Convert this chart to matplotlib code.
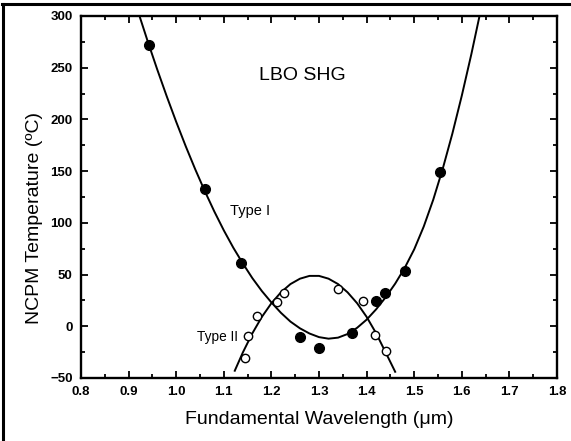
import matplotlib
matplotlib.use("Agg")
import matplotlib.pyplot as plt
from matplotlib.lines import Line2D
from matplotlib.ticker import MultipleLocator

plt.rcParams['font.family'] = ['Liberation Sans', 'DejaVu Sans']

# measured phase-matching temperatures
type1_wl = [0.943, 1.060, 1.137, 1.260, 1.300, 1.369, 1.420, 1.438, 1.481, 1.555]
type1_t = [272, 133, 61, -10, -21, -6.5, 24.5, 32.6, 53, 149]
type2_wl = [1.144, 1.151, 1.169, 1.211, 1.227, 1.339, 1.392, 1.418, 1.440]
type2_t = [-30.6, -9.7, 10, 23.5, 32, 35.8, 24, -8.7, -24]

# calculated tuning curves
type1_fit_wl = [0.92, 0.94, 0.96, 0.98, 1.00, 1.02, 1.04, 1.06, 1.08, 1.10, 1.12,
                1.14, 1.16, 1.18, 1.20, 1.22, 1.24, 1.26, 1.28, 1.30, 1.32, 1.34,
                1.36, 1.38, 1.40, 1.42, 1.44, 1.46, 1.48, 1.50, 1.52, 1.54, 1.56,
                1.58, 1.60, 1.62, 1.64]
type1_fit_t = [304, 275.6, 248.4, 222.4, 197.6, 174, 151.7, 130.7, 111, 92.7, 75.9,
               60.7, 46.5, 34, 23, 13, 4.5, -2, -7, -10.5, -12, -11,
               -7.5, -1.5, 6.4, 16.4, 28, 41.2, 56.4, 74.4, 96.4, 122.4, 152.4,
               186, 223, 263, 306]
type2_fit_wl = [1.123, 1.14, 1.16, 1.18, 1.20, 1.22, 1.24, 1.26, 1.28, 1.30, 1.32,
                1.34, 1.36, 1.38, 1.40, 1.42, 1.44, 1.46]
type2_fit_t = [-43, -25.3, -6.8, 9.1, 22.3, 32.8, 40.8, 46, 48.7, 48.7, 46,
               40.8, 32.8, 22.3, 9.1, -6.8, -25.3, -44]

fig = plt.figure(figsize=(5.71, 4.41), dpi=100)
ax = fig.add_axes([0.1419, 0.1429, 0.8336, 0.8209])

ax.plot(type1_fit_wl, type1_fit_t, color='black', lw=1.4)
ax.plot(type2_fit_wl, type2_fit_t, color='black', lw=1.4)
ax.plot(type1_wl, type1_t, 'o', color='black', ms=7)
ax.plot(type2_wl, type2_t, 'o', mfc='white', mec='black', mew=1.0, ms=6)

ax.set_xlim(0.8, 1.8)
ax.set_ylim(-50, 300)
ax.xaxis.set_major_locator(MultipleLocator(0.1))
ax.xaxis.set_minor_locator(MultipleLocator(0.05))
ax.yaxis.set_major_locator(MultipleLocator(50))
ax.yaxis.set_minor_locator(MultipleLocator(25))
ax.xaxis.set_major_formatter(plt.FormatStrFormatter('%.1f'))
ax.tick_params(which='both', direction='in', top=True, right=True, width=1.3)
ax.tick_params(which='major', length=5, labelsize=9.5, pad=6)
ax.tick_params(which='minor', length=3)
for lab in ax.get_xticklabels() + ax.get_yticklabels():
    lab.set_fontweight('bold')
for sp in ax.spines.values():
    sp.set_linewidth(1.7)

ax.set_xlabel('Fundamental Wavelength (\u03bcm)', fontsize=14, labelpad=9)
ax.set_ylabel('NCPM Temperature (\u00baC)', fontsize=14)
ax.yaxis.set_label_coords(-0.08, 0.443)

ax.text(1.266, 242, 'LBO SHG', fontsize=14, ha='center', va='center')
ax.text(1.113, 111, 'Type I', fontsize=10.5, ha='left', va='center')
ax.text(1.043, -10, 'Type II', fontsize=9.8, ha='left', va='center')

# frame edges of the figure
fig.add_artist(Line2D([2 / 571, 1], [1 - 4 / 441, 1 - 4 / 441], color='black', lw=2.2))
fig.add_artist(Line2D([3 / 571, 3 / 571], [0, 1 - 4 / 441], color='black', lw=2.2))

fig.savefig('out.png', dpi=100)
